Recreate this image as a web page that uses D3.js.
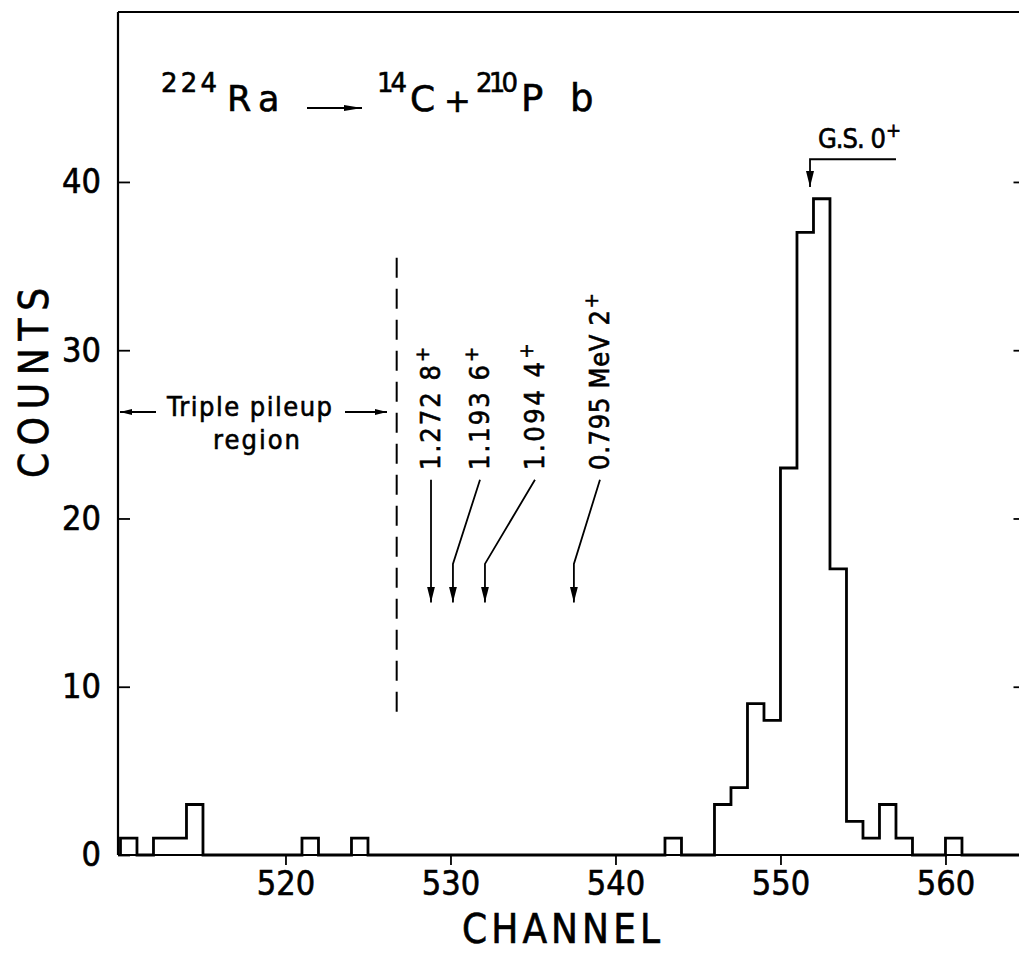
<!DOCTYPE html>
<html><head><meta charset="utf-8">
<script src="https://cdn.jsdelivr.net/npm/d3@7"></script>
<style>
body{margin:0;background:#fff}
text{font-family:"DejaVu Sans Condensed","DejaVu Sans",sans-serif;font-stretch:condensed;fill:#000;stroke:#000;stroke-width:0.6px}
text.wide{font-family:"DejaVu Sans",sans-serif;font-stretch:normal}
</style>
</head><body>
<script>
// ---- data ----
const channels = d3.range(510, 565);
const counts = [1,0,1,1,3,0,0,0,0,0,
                0,1,0,0,1,0,0,0,0,0,
                0,0,0,0,0,0,0,0,0,0,
                0,0,0,1,0,0,3,4,9,8,
                23,37,39,17,2,1,3,1,0,0,
                1,0,0,0,0];
const xTicks = [520, 530, 540, 550, 560];
const yTicks = [0, 10, 20, 30, 40];
const xLabel = "CHANNEL";
const yLabel = "COUNTS";
// level annotations: label, spin, arrow path in (channel, counts)
const levelLabels = ["1.272", "1.193", "1.094", "0.795 MeV"];
const levelSpins = ["8", "6", "4", "2"];
const levelStartCh = [528.82, 531.79, 535.12, 539.06];
const levelKinkCh = [528.82, 530.15, 532.09, 537.48];
const levelCounts = [22.3, 17.3, 15.0]; // start, kink, tip
const gsLabel = "G.S. 0";
const gsCh = [557.0, 551.79];
const gsCounts = [41.35, 39.7];
const pileupCh = 526.74;
const pileupCounts = [8.1, 35.5];

const W = 1019, H = 953;
const svg = d3.select("body").append("svg").attr("width", W).attr("height", H);

const x = d3.scaleLinear().domain([509.85, 564.85]).range([118, 1025.5]);
const y = d3.scaleLinear().domain([0, 50.1]).range([855, 12]);

const defs = svg.append("defs");
function marker(id, len, half) {
  defs.append("marker").attr("id", id).attr("markerUnits", "userSpaceOnUse")
    .attr("markerWidth", len + 2).attr("markerHeight", half * 2 + 2)
    .attr("viewBox", `0 ${-half - 1} ${len + 2} ${half * 2 + 2}`)
    .attr("refX", len).attr("refY", 0).attr("orient", "auto")
    .append("path").attr("d", `M0,${-half}L${len},0L0,${half}Z`).attr("fill", "#000");
}
marker("ah", 16, 4);
marker("ahs", 12, 3);
marker("aht", 18, 3);

// ---- frame ----
svg.append("line").attr("x1", x.range()[0]).attr("x2", x.range()[1]).attr("y1", y(50.1)).attr("y2", y(50.1))
  .attr("stroke", "#000").attr("stroke-width", 2);
svg.append("line").attr("x1", x.range()[0]).attr("x2", x.range()[0]).attr("y1", y(50.1)).attr("y2", y(0))
  .attr("stroke", "#000").attr("stroke-width", 2.2);
svg.append("line").attr("x1", x.range()[0]).attr("x2", x.range()[1]).attr("y1", y(0)).attr("y2", y(0))
  .attr("stroke", "#000").attr("stroke-width", 2.2);
svg.append("line").attr("x1", x.range()[1]).attr("x2", x.range()[1]).attr("y1", y(50.1)).attr("y2", y(0))
  .attr("stroke", "#000").attr("stroke-width", 2);

// ---- axes ----
const gx = svg.append("g").attr("transform", `translate(0,${y(0)})`)
  .call(d3.axisBottom(x).tickValues(xTicks).tickSize(10).tickSizeOuter(0).tickFormat(d3.format("d")));
gx.select(".domain").remove();
gx.selectAll(".tick line").attr("stroke", "#000").attr("stroke-width", 1.8);
gx.selectAll(".tick text").attr("y", 40).attr("dy", 0).attr("font-size", 34)
  .style("font-family", '"DejaVu Sans Condensed","DejaVu Sans",sans-serif');

const gy = svg.append("g").attr("transform", `translate(${x.range()[0]},0)`)
  .call(d3.axisLeft(y).tickValues(yTicks).tickSize(-12).tickSizeOuter(0).tickPadding(17).tickFormat(d3.format("d")));
gy.select(".domain").remove();
gy.selectAll(".tick line").attr("stroke", "#000").attr("stroke-width", 1.8);
gy.selectAll(".tick text").attr("font-size", 34)
  .style("font-family", '"DejaVu Sans Condensed","DejaVu Sans",sans-serif');

const gr = svg.append("g").attr("transform", `translate(${x.range()[1]},0)`)
  .call(d3.axisRight(y).tickValues(yTicks.filter(d => d > 0)).tickSize(-12).tickSizeOuter(0).tickFormat(""));
gr.select(".domain").remove();
gr.selectAll(".tick line").attr("stroke", "#000").attr("stroke-width", 1.8);

// ---- histogram ----
const pts = [[channels[0], 0]].concat(channels.map((c, i) => [c, counts[i]])).concat([[channels[channels.length - 1] + 1, 0]]);
svg.append("path").datum(pts)
  .attr("d", d3.line().x(d => x(d[0])).y(d => y(d[1])).curve(d3.curveStepAfter))
  .attr("fill", "none").attr("stroke", "#000").attr("stroke-width", 2.8).attr("stroke-linejoin", "miter");

// ---- axis labels ----
svg.append("text").attr("x", 462).attr("y", 943).attr("font-size", 40)
  .attr("textLength", 198).attr("lengthAdjust", "spacing").text(xLabel);
svg.append("text").attr("transform", "translate(48,478) rotate(-90)").attr("font-size", 40)
  .attr("textLength", 190).attr("lengthAdjust", "spacing").text(yLabel);

// ---- title ----
const title = svg.append("g");
function tpart(tx, ty, size, len, s) {
  const t = title.append("text").attr("class", "wide").attr("x", tx).attr("y", ty).attr("font-size", size).text(s);
  if (len) t.attr("textLength", len).attr("lengthAdjust", "spacing");
}
tpart(161, 92, 26, 56, "224");
tpart(227, 111, 35, 0, "R");
tpart(258, 111, 35, 0, "a");
tpart(377, 92, 26, 30, "14");
tpart(410, 111, 36, 0, "C");
tpart(444, 112, 32, 0, "+");
tpart(476, 92, 26, 42, "210");
tpart(521, 111, 37, 0, "P");
tpart(570, 111, 37, 0, "b");
title.append("line").attr("x1", 307).attr("x2", 362).attr("y1", 108).attr("y2", 108)
  .attr("stroke", "#000").attr("stroke-width", 1.8).attr("marker-end", "url(#aht)");

// ---- pileup region ----
svg.append("line").attr("x1", x(pileupCh)).attr("x2", x(pileupCh))
  .attr("y1", y(pileupCounts[1])).attr("y2", y(pileupCounts[0]))
  .attr("stroke", "#000").attr("stroke-width", 2).attr("stroke-dasharray", "20,11");
svg.append("text").attr("x", 167).attr("y", 416).attr("font-size", 27)
  .attr("textLength", 165).attr("lengthAdjust", "spacing").text("Triple pileup");
svg.append("text").attr("x", 213).attr("y", 449).attr("font-size", 27)
  .attr("textLength", 87).attr("lengthAdjust", "spacing").text("region");
svg.append("line").attr("x1", 156).attr("x2", 120).attr("y1", 412).attr("y2", 412)
  .attr("stroke", "#000").attr("stroke-width", 1.8).attr("marker-end", "url(#ahs)");
svg.append("line").attr("x1", 345).attr("x2", 387).attr("y1", 412).attr("y2", 412)
  .attr("stroke", "#000").attr("stroke-width", 1.8).attr("marker-end", "url(#ahs)");

// ---- level arrows ----
const levelLen = [105, 105, 108, 160];
levelLabels.forEach((lab, i) => {
  const bx = x(levelStartCh[i]) + 9;
  const t = svg.append("text").attr("transform", `translate(${bx},470) rotate(-90)`).attr("font-size", 27);
  t.append("tspan").attr("textLength", levelLen[i]).attr("lengthAdjust", "spacing").text(lab + " " + levelSpins[i]);
  t.append("tspan").attr("dy", -11).attr("dx", 1).attr("font-size", 20).text("+");
  const p = [[levelStartCh[i], levelCounts[0]], [levelKinkCh[i], levelCounts[1]], [levelKinkCh[i], levelCounts[2]]];
  svg.append("path").datum(p).attr("d", d3.line().x(d => x(d[0])).y(d => y(d[1])))
    .attr("fill", "none").attr("stroke", "#000").attr("stroke-width", 1.8).attr("marker-end", "url(#ah)");
});

// ---- ground state ----
svg.append("path").datum([[gsCh[0], gsCounts[0]], [gsCh[1], gsCounts[0]], [gsCh[1], gsCounts[1]]])
  .attr("d", d3.line().x(d => x(d[0])).y(d => y(d[1])))
  .attr("fill", "none").attr("stroke", "#000").attr("stroke-width", 1.8).attr("marker-end", "url(#ah)");
const gs = svg.append("text").attr("x", 818).attr("y", 148).attr("font-size", 27);
gs.append("tspan").attr("textLength", 68).attr("lengthAdjust", "spacing").text(gsLabel);
gs.append("tspan").attr("dy", -11).attr("dx", 1).attr("font-size", 20).text("+");
</script>
</body></html>
